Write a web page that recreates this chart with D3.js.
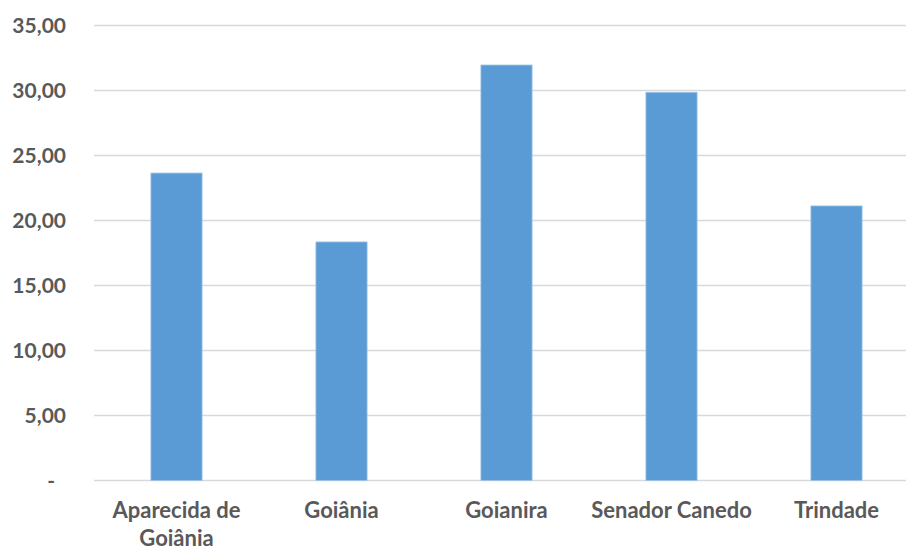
<!DOCTYPE html>
<html><head><meta charset="utf-8">
<script src="https://cdn.jsdelivr.net/npm/d3@7"></script>
<style>body{margin:0;background:#fff}svg{display:block}</style>
</head><body>
<script>
const categories = ["Aparecida de Goiânia", "Goiânia", "Goianira", "Senador Canedo", "Trindade"];
const values = [23.65, 18.35, 31.96, 29.86, 21.12];
const yTicks = [0, 5, 10, 15, 20, 25, 30, 35];

const W = 906, H = 550;
const svg = d3.select("body").append("svg").attr("width", W).attr("height", H);
const font = "Lato, 'Open Sans', sans-serif";
const x = d3.scaleBand().domain(categories).range([94, 919]).paddingInner(0.69).paddingOuter(0.345);
const y = d3.scaleLinear().domain([0, 35]).range([480.5, 25.5]);

// gridlines
svg.append("g").selectAll("line").data(yTicks).join("line")
  .attr("x1", 94).attr("x2", W).attr("y1", d => y(d)).attr("y2", d => y(d))
  .attr("stroke", "#D9D9D9").attr("stroke-width", 1.5);

// bars
svg.append("g").selectAll("rect").data(values).join("rect")
  .attr("x", (d, i) => x(categories[i])).attr("width", x.bandwidth())
  .attr("y", d => y(d)).attr("height", d => y(0) - y(d))
  .attr("fill", "#5B9BD5").attr("stroke", "#9DC3E6").attr("stroke-width", 0.8);

// y axis labels
const fmt = d => d === 0 ? "-" : d3.format(".2f")(d).replace(".", ",");
svg.append("g").selectAll("text").data(yTicks).join("text")
  .attr("x", d => d === 0 ? 55 : 66).attr("y", d => y(d)).attr("dy", "0.36em")
  .attr("text-anchor", "end").attr("font-family", font).attr("font-weight", "bold")
  .attr("font-size", 21).attr("fill", "#595959").text(fmt);

// x labels with wrapping
const xl = svg.append("g").selectAll("text").data(categories).join("text")
  .attr("x", d => x(d) + x.bandwidth() / 2).attr("y", 518)
  .attr("text-anchor", "middle").attr("font-family", font).attr("font-weight", "bold")
  .attr("font-size", 22).attr("fill", "#595959");
xl.each(function(d) {
  const t = d3.select(this);
  const words = d.split(" ");
  let line = [];
  let tspan = t.append("tspan").attr("x", t.attr("x")).attr("dy", 0);
  for (const w of words) {
    line.push(w);
    tspan.text(line.join(" "));
    if (tspan.node().getComputedTextLength() > 175 && line.length > 1) {
      line.pop(); tspan.text(line.join(" "));
      line = [w];
      tspan = t.append("tspan").attr("x", t.attr("x")).attr("dy", 28).text(w);
    }
  }
  // force wrap for the long two-word-plus label like the reference
  if (t.selectAll("tspan").size() === 1 && words.length > 2) {
    t.selectAll("tspan").remove();
    t.append("tspan").attr("x", t.attr("x")).attr("dy", 0).text(words.slice(0, -1).join(" "));
    t.append("tspan").attr("x", t.attr("x")).attr("dy", 28).text(words[words.length - 1]);
  }
});
</script>
</body></html>
